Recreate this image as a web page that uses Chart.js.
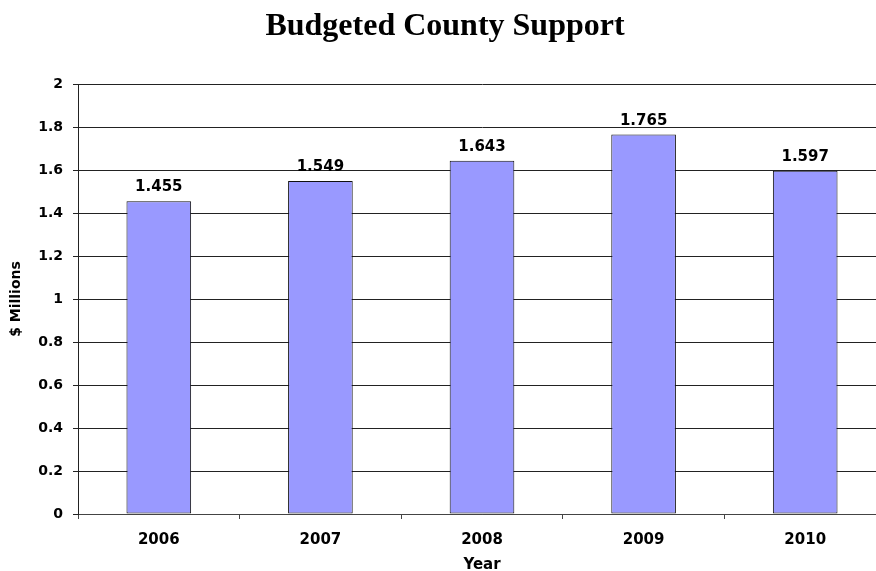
<!DOCTYPE html>
<html>
<head>
<meta charset="utf-8">
<script src="https://cdn.jsdelivr.net/npm/chart.js@4.4.0/dist/chart.umd.min.js"></script>
<style>
  html, body { margin: 0; padding: 0; background: #fff; overflow: hidden; }
  #wrap { width: 890px; height: 571px; }
</style>
</head>
<body>
<div id="wrap"><canvas id="support"></canvas></div>
<script>
var years = ['2006', '2007', '2008', '2009', '2010']
var support = [1.455, 1.549, 1.643, 1.765, 1.597]
var yTicks = [0, 0.2, 0.4, 0.6, 0.8, 1, 1.2, 1.4, 1.6, 1.8, 2]

var sansFont = '"DejaVu Sans", Verdana, sans-serif'

// value labels over each bar
var barLabels = {
    id: 'barLabels',
    afterDatasetsDraw: function (chart) {
        var ctx = chart.ctx
        var meta = chart.getDatasetMeta(0)
        ctx.save()
        ctx.font = 'bold 15px ' + sansFont
        ctx.fillStyle = '#000'
        ctx.textAlign = 'center'
        ctx.textBaseline = 'alphabetic'
        meta.data.forEach(function (bar, i) {
            ctx.fillText(support[i].toFixed(3), bar.x, bar.y - 10)
        })
        ctx.restore()
    }
}

var ctx = document.getElementById('support').getContext('2d');
var chart = new Chart(ctx, {
    type: 'bar',
    data: {
        labels: years,
        datasets: [{
            data: support,
            backgroundColor: '#9999ff',
            borderColor: '#111111',
            borderWidth: 1,
            borderSkipped: false,
            barPercentage: 0.4,
            categoryPercentage: 1
        }],
    },
    options: {
        responsive: true,
        maintainAspectRatio: false,
        animation: false,
        layout: { padding: { left: 4, right: 4, top: 0, bottom: 0 } },
        plugins: {
            legend: { display: false },
            tooltip: { enabled: false },
            title: {
                display: true,
                text: 'Budgeted County Support',
                color: '#000',
                font: { family: '"Liberation Serif", "Times New Roman", serif', size: 32, weight: 'bold', lineHeight: 1.2 },
                padding: { top: 8, bottom: 37.6 }
            }
        },
        scales: {
            x: {
                offset: true,
                afterFit: function (axis) { axis.height = 57 },
                grid: { offset: true, drawOnChartArea: false, color: '#444', tickLength: 5 },
                border: { color: '#444', width: 1 },
                ticks: { color: '#000', font: { family: sansFont, size: 15, weight: 'bold', lineHeight: 1 }, padding: 14 },
                title: { display: true, text: 'Year', color: '#000', font: { family: sansFont, size: 15, weight: 'bold', lineHeight: 1 }, padding: { top: 0, bottom: -2 } }
            },
            y: {
                min: 0,
                max: 2,
                afterBuildTicks: function (axis) {
                    axis.ticks = yTicks.map(function (v) { return { value: v } })
                },
                afterFit: function (axis) { axis.width = 74 },
                grid: { color: '#222', tickLength: 5 },
                border: { color: '#222', width: 1 },
                ticks: {
                    color: '#000',
                    font: { family: sansFont, size: 14, weight: 'bold' },
                    padding: 10,
                    callback: function (v) { return String(v) }
                },
                title: { display: true, text: '$ Millions', color: '#000', font: { family: sansFont, size: 14, weight: 'bold', lineHeight: 1.2 }, padding: { top: 4, bottom: 0 } }
            }
        }
    },
    plugins: [barLabels]
});
</script>
</body>
</html>
